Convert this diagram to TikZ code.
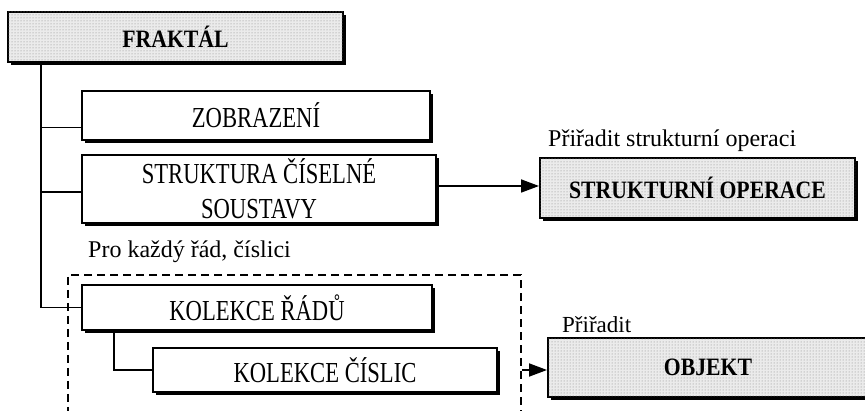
\documentclass[tikz,border=0pt]{standalone}
\usepackage{fontspec}
\setmainfont{Liberation Serif}
\usetikzlibrary{shadows,arrows.meta,calc,patterns}
\newcommand{\cx}[1]{\scalebox{0.78}[1]{#1}}
\newcommand{\cb}[1]{\scalebox{0.87}[1]{#1}}
\begin{document}
\begin{tikzpicture}[x=1pt,y=-1pt,
  txt/.style={font=\fontsize{29}{35}\selectfont},
  boxw/.style={draw=black,line width=2pt,fill=white,txt,align=center,inner sep=0pt,
    drop shadow={shadow xshift=3pt,shadow yshift=-3pt,fill=black,opacity=1}},
  boxg/.style={draw=black,line width=2pt,inner sep=0pt,fill=black!8,
    postaction={pattern=dots,pattern color=black!50},
    font=\fontsize{25}{28}\selectfont\bfseries,
    drop shadow={shadow xshift=3pt,shadow yshift=-3pt,fill=black,opacity=1}},
  conn/.style={line width=1.8pt},
  arr/.style={line width=1.8pt,-{Triangle[length=18pt,width=13pt]}},
  lbl/.style={font=\fontsize{24}{28}\selectfont,inner sep=0pt,anchor=base west}]
\useasboundingbox (0,0) rectangle (865,411);
\clip (0,0) rectangle (865,411);
% dashed group
\node[draw,line width=1.6pt,dash pattern=on 8pt off 5pt,minimum width=453pt,minimum height=145pt,inner sep=0pt] (grp) at (294.5,347.5) {};
% boxes
\node[boxg,minimum width=335pt,minimum height=50pt] (fr) at (175.5,37) {\cb{FRAKTÁL}};
\node[boxw,minimum width=348pt,minimum height=49pt] (zob) at (256,115.5) {\cx{ZOBRAZENÍ}};
\node[boxw,minimum width=354pt,minimum height=68pt] (str) at (259,189) {\cx{STRUKTURA ČÍSELNÉ}\\\cx{SOUSTAVY}};
\node[boxg,minimum width=315pt,minimum height=60pt] (so) at (697.5,188) {\cb{STRUKTURNÍ OPERACE}};
\node[boxw,minimum width=350pt,minimum height=45pt] (kr) at (257,307.5) {\cx{KOLEKCE ŘÁDŮ}};
\node[boxw,minimum width=344pt,minimum height=44pt] (kc) at (325,370) {\cx{KOLEKCE ČÍSLIC}};
\node[boxg,minimum width=320pt,minimum height=59pt] (obj) at (708,367.5) {\cb{OBJEKT}};
% labels
\node[lbl] (l1) at (548,147) {Přiřadit strukturní operaci};
\node[lbl] (l2) at (88,258) {Pro každý řád, číslici};
\node[lbl,font=\fontsize{23}{28}\selectfont] (l3) at (562,333) {Přiřadit};
% trunk
\coordinate (t0) at ($(fr.south west)+(34,0)$);
\draw[conn] (t0) |- (kr.west);
\draw[conn] (t0 |- {$(zob.west)+(0,12)$}) -- ($(zob.west)+(0,12)$);
\draw[conn] (t0 |- {$(str.west)+(0,3)$}) -- ($(str.west)+(0,3)$);
\draw[conn] ($(kr.south west)+(33,0)$) |- (kc.west);
% arrows
\draw[arr] ($(str.east)+(0,-3)$) -- (so.west |- {$(str.east)+(0,-3)$});
\draw[arr] (grp.east |- kc.east) -- (obj.west |- kc.east);
\end{tikzpicture}
\end{document}
